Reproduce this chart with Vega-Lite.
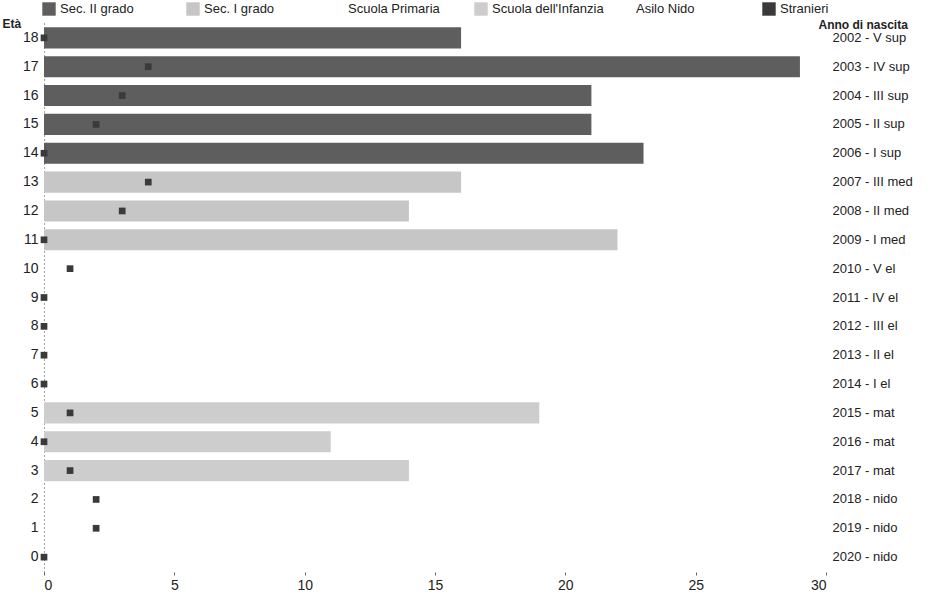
{
  "$schema": "https://vega.github.io/schema/vega-lite/v6.json",
  "width": 782,
  "height": 549,
  "padding": {"left": 44, "top": 23, "right": 119, "bottom": 24},
  "autosize": {"type": "none"},
  "background": "white",
  "config": {
    "view": {"stroke": null},
    "font": "Liberation Sans",
    "axis": {"labelColor": "#222", "titleColor": "#222", "labelFont": "Liberation Sans", "titleFont": "Liberation Sans"},
    "legend": {"labelFont": "Liberation Sans"}
  },
  "data": {
    "values": [
      {"eta": 18, "anno": "2002 - V sup", "grado": "Sec. II grado", "n": 16, "stranieri": 0},
      {"eta": 17, "anno": "2003 - IV sup", "grado": "Sec. II grado", "n": 29, "stranieri": 4},
      {"eta": 16, "anno": "2004 - III sup", "grado": "Sec. II grado", "n": 21, "stranieri": 3},
      {"eta": 15, "anno": "2005 - II sup", "grado": "Sec. II grado", "n": 21, "stranieri": 2},
      {"eta": 14, "anno": "2006 - I sup", "grado": "Sec. II grado", "n": 23, "stranieri": 0},
      {"eta": 13, "anno": "2007 - III med", "grado": "Sec. I grado", "n": 16, "stranieri": 4},
      {"eta": 12, "anno": "2008 - II med", "grado": "Sec. I grado", "n": 14, "stranieri": 3},
      {"eta": 11, "anno": "2009 - I med", "grado": "Sec. I grado", "n": 22, "stranieri": 0},
      {"eta": 10, "anno": "2010 - V el", "grado": "Scuola Primaria", "n": 0, "stranieri": 1},
      {"eta": 9, "anno": "2011 - IV el", "grado": "Scuola Primaria", "n": 0, "stranieri": 0},
      {"eta": 8, "anno": "2012 - III el", "grado": "Scuola Primaria", "n": 0, "stranieri": 0},
      {"eta": 7, "anno": "2013 - II el", "grado": "Scuola Primaria", "n": 0, "stranieri": 0},
      {"eta": 6, "anno": "2014 - I el", "grado": "Scuola Primaria", "n": 0, "stranieri": 0},
      {"eta": 5, "anno": "2015 - mat", "grado": "Scuola dell'Infanzia", "n": 19, "stranieri": 1},
      {"eta": 4, "anno": "2016 - mat", "grado": "Scuola dell'Infanzia", "n": 11, "stranieri": 0},
      {"eta": 3, "anno": "2017 - mat", "grado": "Scuola dell'Infanzia", "n": 14, "stranieri": 1},
      {"eta": 2, "anno": "2018 - nido", "grado": "Asilo Nido", "n": 0, "stranieri": 2},
      {"eta": 1, "anno": "2019 - nido", "grado": "Asilo Nido", "n": 0, "stranieri": 2},
      {"eta": 0, "anno": "2020 - nido", "grado": "Asilo Nido", "n": 0, "stranieri": 0}
    ]
  },
  "layer": [
    {
      "layer": [
        {
          "mark": {"type": "bar"},
          "encoding": {
            "y": {
              "field": "eta", "type": "ordinal", "sort": "descending",
              "scale": {"paddingInner": 0.27, "paddingOuter": 0.15},
              "axis": {
                "orient": "left", "domain": true, "domainDash": [1, 3], "domainColor": "#444",
                "ticks": false, "labelPadding": 6, "labelFontSize": 14,
                "title": "Età", "titleAngle": 0, "titleAlign": "left", "titleX": -42, "titleY": 0,
                "titleBaseline": "middle", "titleFontSize": 12, "titleFontWeight": "bold"
              }
            },
            "x": {
              "field": "n", "type": "quantitative",
              "scale": {"domain": [0, 30], "nice": false},
              "axis": {
                "values": [0, 5, 10, 15, 20, 25, 30], "grid": false, "domain": false,
                "tickSize": 3, "tickColor": "#666", "labelFontSize": 14, "labelPadding": 3, "title": null
              }
            },
            "color": {
              "field": "grado", "type": "nominal",
              "scale": {
                "domain": ["Sec. II grado", "Sec. I grado", "Scuola Primaria", "Scuola dell'Infanzia", "Asilo Nido", "Stranieri"],
                "range": ["#5e5e5e", "#c6c6c6", "#ffffff", "#cdcdcd", "#ffffff", "#3a3a3a"]
              },
              "legend": {
                "orient": "none", "legendX": -2, "legendY": -21, "direction": "horizontal",
                "columns": 6, "gridAlign": "all", "columnPadding": 14, "title": null,
                "symbolType": "square", "symbolSize": 180, "symbolStrokeWidth": 0,
                "labelFontSize": 13, "labelColor": "#222", "labelLimit": 200
              }
            }
          }
        },
        {
          "mark": {"type": "point", "shape": "square", "filled": true, "size": 45, "opacity": 1},
          "encoding": {
            "y": {"field": "eta", "type": "ordinal", "sort": "descending"},
            "x": {"field": "stranieri", "type": "quantitative"},
            "color": {"datum": "Stranieri"}
          }
        }
      ]
    },
    {
      "mark": {"type": "point", "opacity": 0},
      "encoding": {
        "y": {
          "field": "anno", "type": "ordinal", "sort": "ascending",
          "scale": {"type": "band", "paddingInner": 0.27, "paddingOuter": 0.15},
          "axis": {
            "orient": "right", "domain": false, "ticks": false, "labelPadding": 6, "labelFontSize": 13,
            "title": "Anno di nascita", "titleAngle": 0, "titleAlign": "left", "titleX": -8, "titleY": 1,
            "titleBaseline": "middle", "titleFontSize": 12, "titleFontWeight": "bold"
          }
        }
      }
    }
  ],
  "resolve": {"scale": {"y": "independent"}, "axis": {"y": "independent"}}
}
